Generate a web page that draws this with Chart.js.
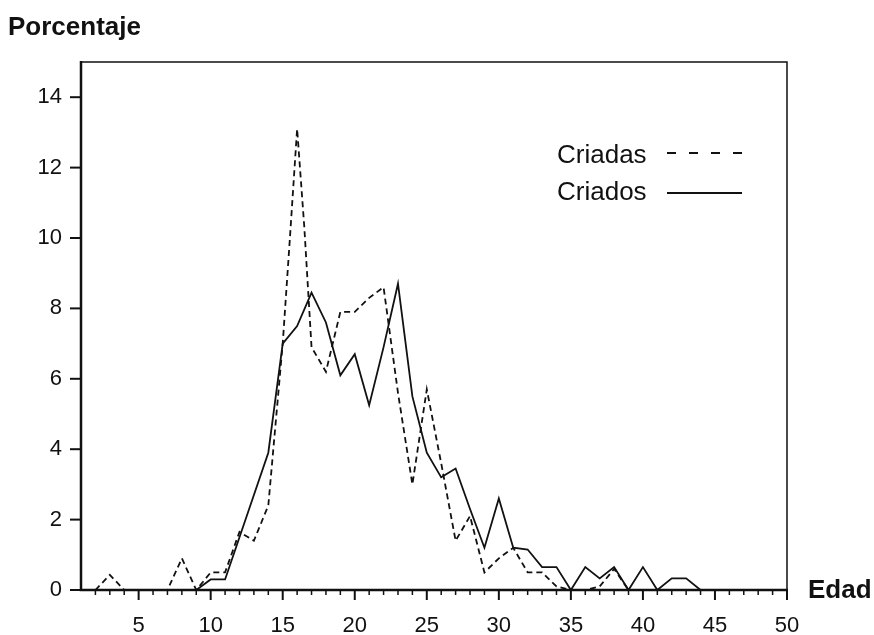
<!DOCTYPE html>
<html>
<head>
<meta charset="utf-8">
<script src="https://cdn.jsdelivr.net/npm/chart.js@4.4.1/dist/chart.umd.min.js"></script>
<style>
  body { margin: 0; background: #fff; }
  #wrap { width: 874px; height: 635px; }
</style>
</head>
<body>
<div id="wrap"><canvas id="grafico" width="874" height="635"></canvas></div>
<script>
// Datos (porcentaje por edad)
const edadesCriadas = [2, 3, 4, 5, 6, 7, 8, 9, 10, 11, 12, 13, 14, 15, 15.5, 16, 16.5,
  17, 18, 19, 20, 21, 22, 23, 24, 25, 26, 27, 28, 29, 30, 31, 32, 33, 34, 35, 36, 37, 38, 39, 40, 41, 42, 43, 44];
const criadas = [0, 0.43, 0, 0, 0, 0, 0.9, 0, 0.5, 0.5, 1.65, 1.4, 2.4, 7.0, 10.0, 13.1, 10.3,
  6.9, 6.2, 7.9, 7.9, 8.3, 8.6, 5.6, 3.0, 5.7, 3.6, 1.4, 2.1, 0.5, 0.9, 1.2, 0.5, 0.5, 0.1, 0, 0, 0.1, 0.6, 0, 0, 0, 0, 0, 0];

const edadesCriados = [9, 10, 11, 12, 13, 14, 15, 16, 17, 18, 19, 20, 21, 22, 23, 24, 25, 26,
  27, 28, 29, 30, 31, 32, 33, 34, 35, 36, 37, 38, 39, 40, 41, 42, 43, 44];
const criados = [0, 0.3, 0.3, 1.5, 2.7, 3.9, 7.0, 7.5, 8.45, 7.6, 6.1, 6.7, 5.25, 6.9, 8.7, 5.5, 3.9, 3.2,
  3.45, 2.3, 1.2, 2.6, 1.2, 1.15, 0.65, 0.65, 0, 0.65, 0.33, 0.65, 0, 0.65, 0, 0.33, 0.33, 0];

const xTicks = [5, 10, 15, 20, 25, 30, 35, 40, 45, 50];
const xMinorTicks = [2, 3, 4, 5, 6, 7, 8, 9, 10, 11, 12, 13, 14, 15, 16, 17, 18, 19, 20, 21, 22, 23, 24, 25,
  26, 27, 28, 29, 30, 31, 32, 33, 34, 35, 36, 37, 38, 39, 40, 41, 42, 43, 44, 45, 46, 47, 48, 49, 50];
const yTicks = [0, 2, 4, 6, 8, 10, 12, 14];

const tinta = '#111';
const fuente = "'Liberation Sans', Arial, Helvetica, sans-serif";

// Marco, marcas de los ejes, títulos y leyenda
const extras = {
  id: 'extras',
  afterDraw(chart) {
    const ctx = chart.ctx;
    const a = chart.chartArea;
    const xs = chart.scales.x;
    const ys = chart.scales.y;
    ctx.save();
    ctx.strokeStyle = tinta;
    ctx.setLineDash([]);

    // marco fino arriba y a la derecha
    ctx.lineWidth = 1.5;
    ctx.beginPath();
    ctx.moveTo(a.left, a.top);
    ctx.lineTo(a.right, a.top);
    ctx.lineTo(a.right, a.bottom);
    ctx.stroke();

    // ejes gruesos
    ctx.lineWidth = 2.5;
    ctx.beginPath();
    ctx.moveTo(a.left, a.top - 1);
    ctx.lineTo(a.left, a.bottom);
    ctx.lineTo(a.right + 1, a.bottom);
    ctx.stroke();

    // marcas eje y
    ctx.lineWidth = 2;
    yTicks.forEach(v => {
      const y = ys.getPixelForValue(v);
      ctx.beginPath();
      ctx.moveTo(a.left - 11, y);
      ctx.lineTo(a.left, y);
      ctx.stroke();
    });

    // marcas eje x
    xMinorTicks.forEach(v => {
      const x = xs.getPixelForValue(v);
      const mayor = xTicks.includes(v);
      ctx.lineWidth = mayor ? 2 : 1.5;
      ctx.beginPath();
      ctx.moveTo(x, a.bottom);
      ctx.lineTo(x, a.bottom + (mayor ? 10 : 5));
      ctx.stroke();
    });

    // títulos
    ctx.fillStyle = tinta;
    ctx.textBaseline = 'alphabetic';
    ctx.textAlign = 'left';
    ctx.font = 'bold 26px ' + fuente;
    ctx.fillText('Porcentaje', 8, 35);
    ctx.fillText('Edad', 808, 598);

    // leyenda
    ctx.font = '26px ' + fuente;
    ctx.fillText('Criadas', 557, 163);
    ctx.fillText('Criados', 557, 200);
    ctx.lineWidth = 1.8;
    ctx.setLineDash([9, 13]);
    ctx.beginPath();
    ctx.moveTo(667, 153);
    ctx.lineTo(742, 153);
    ctx.stroke();
    ctx.setLineDash([]);
    ctx.beginPath();
    ctx.moveTo(667, 193);
    ctx.lineTo(742, 193);
    ctx.stroke();
    ctx.restore();
  }
};

const ctx = document.getElementById('grafico').getContext('2d');
new Chart(ctx, {
  type: 'line',
  data: {
    datasets: [
      {
        label: 'Criadas',
        data: edadesCriadas.map((e, i) => ({ x: e, y: criadas[i] })),
        borderColor: tinta,
        borderWidth: 1.8,
        borderDash: [6, 4],
        pointRadius: 0,
        tension: 0,
        fill: false
      },
      {
        label: 'Criados',
        data: edadesCriados.map((e, i) => ({ x: e, y: criados[i] })),
        borderColor: tinta,
        borderWidth: 1.8,
        pointRadius: 0,
        tension: 0,
        fill: false
      }
    ]
  },
  options: {
    responsive: false,
    animation: false,
    layout: { padding: { top: 62, right: 87, left: 0, bottom: 0 } },
    plugins: {
      legend: { display: false },
      tooltip: { enabled: false }
    },
    scales: {
      x: {
        type: 'linear',
        min: 1,
        max: 50,
        grid: { display: false, drawTicks: false, tickLength: 0 },
        border: { display: false },
        afterBuildTicks: scale => { scale.ticks = xTicks.map(v => ({ value: v })); },
        afterFit: scale => { scale.height = 45; },
        ticks: {
          autoSkip: false,
          maxRotation: 0,
          padding: 23,
          color: tinta,
          font: { family: fuente, size: 22 }
        }
      },
      y: {
        min: 0,
        max: 15,
        grid: { display: false, drawTicks: false, tickLength: 0 },
        border: { display: false },
        afterBuildTicks: scale => { scale.ticks = yTicks.map(v => ({ value: v })); },
        afterFit: scale => { scale.width = 81; },
        ticks: {
          autoSkip: false,
          padding: 19,
          color: tinta,
          font: { family: fuente, size: 22 }
        }
      }
    }
  },
  plugins: [extras]
});
</script>
</body>
</html>
